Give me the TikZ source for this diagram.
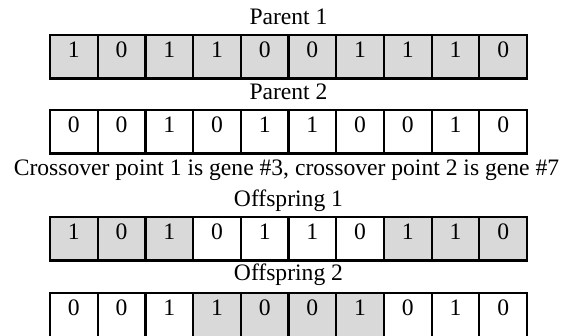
\documentclass[tikz,border=0pt]{standalone}
\usepackage{fontspec}
\setmainfont{Liberation Serif}
\definecolor{genegray}{RGB}{217,217,217}
\tikzset{gene/.style={draw, line width=2.2pt, minimum width=47.7pt, inner sep=0pt, text height=23pt, text depth=20.5pt}}
\tikzset{caption/.style={anchor=base}}

\begin{document}
\begin{tikzpicture}[x=1pt, y=-1pt, font=\fontsize{23.6}{28}\selectfont]
\useasboundingbox (0,0) rectangle (563,336);
%% first parent
  \node[caption] (par1) at (288.5,25) {Parent 1};
  \foreach \v [count=\i] in {1,0,1,1,0,0,1,1,1,0}
    \node[gene, fill=genegray] (pa\i) at (50+47.7*\i-23.85, 56.75) {\v};
%% second parent
  \node[caption] (par2) at (288.5,100) {Parent 2};
  \foreach \v [count=\i] in {0,0,1,0,1,1,0,0,1,0}
    \node[gene, fill=white] (pb\i) at (50+47.7*\i-23.85, 131.75) {\v};
%% crossover points
  \node[caption] (cross) at (286.5,176) {Crossover point 1 is gene \#3, crossover point 2 is gene \#7};
%% first offspring
  \node[caption] (off1) at (288.5,207) {Offspring 1};
  \foreach \v/\f [count=\i] in {1/genegray,0/genegray,1/genegray,0/white,1/white,1/white,0/white,1/genegray,1/genegray,0/genegray}
    \node[gene, fill=\f] (oa\i) at (50+47.7*\i-23.85, 238.75) {\v};
%% second offspring (cut off at the bottom)
  \node[caption] (off2) at (288.5,281) {Offspring 2};
  \foreach \v/\f [count=\i] in {0/white,0/white,1/white,1/genegray,0/genegray,0/genegray,1/genegray,0/white,1/white,0/white}
    \node[gene, fill=\f, text depth=26pt] (ob\i) at (50+47.7*\i-23.85, 317.5) {\v};
\end{tikzpicture}
\end{document}
